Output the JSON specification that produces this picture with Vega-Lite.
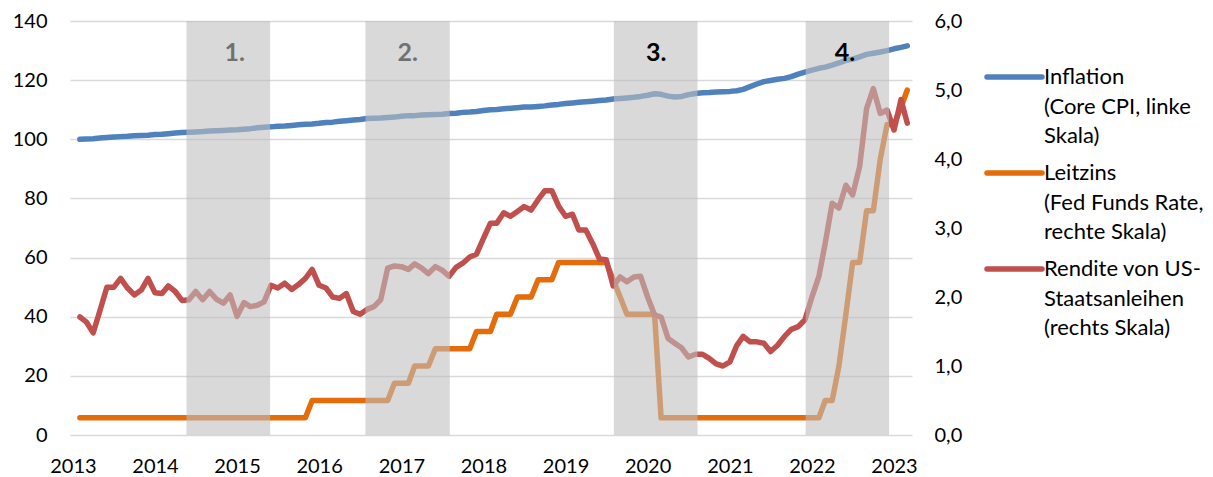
{
  "$schema": "https://vega.github.io/schema/vega-lite/v6.json",
  "width": 842,
  "height": 414,
  "autosize": "none",
  "padding": {"left": 70, "top": 21, "right": 301, "bottom": 42},
  "background": "white",
  "config": {"view": {"stroke": null}, "font": "Lato"},
  "datasets": {
    "series": [
      {"date":"2013-02-01","infl":100.0,"rate":0.25,"yld":1.71},
      {"date":"2013-03-01","infl":100.1,"rate":0.25,"yld":1.64},
      {"date":"2013-04-01","infl":100.2,"rate":0.25,"yld":1.48},
      {"date":"2013-05-01","infl":100.4,"rate":0.25,"yld":1.80},
      {"date":"2013-06-01","infl":100.6,"rate":0.25,"yld":2.14},
      {"date":"2013-07-01","infl":100.8,"rate":0.25,"yld":2.14},
      {"date":"2013-08-01","infl":100.9,"rate":0.25,"yld":2.27},
      {"date":"2013-09-01","infl":101.0,"rate":0.25,"yld":2.13},
      {"date":"2013-10-01","infl":101.2,"rate":0.25,"yld":2.03},
      {"date":"2013-11-01","infl":101.3,"rate":0.25,"yld":2.10},
      {"date":"2013-12-01","infl":101.4,"rate":0.25,"yld":2.27},
      {"date":"2014-01-01","infl":101.6,"rate":0.25,"yld":2.06},
      {"date":"2014-02-01","infl":101.7,"rate":0.25,"yld":2.05},
      {"date":"2014-03-01","infl":101.9,"rate":0.25,"yld":2.16},
      {"date":"2014-04-01","infl":102.1,"rate":0.25,"yld":2.08},
      {"date":"2014-05-01","infl":102.3,"rate":0.25,"yld":1.95},
      {"date":"2014-06-01","infl":102.4,"rate":0.25,"yld":1.96},
      {"date":"2014-07-01","infl":102.5,"rate":0.25,"yld":2.08},
      {"date":"2014-08-01","infl":102.6,"rate":0.25,"yld":1.96},
      {"date":"2014-09-01","infl":102.8,"rate":0.25,"yld":2.08},
      {"date":"2014-10-01","infl":102.9,"rate":0.25,"yld":1.97},
      {"date":"2014-11-01","infl":103.0,"rate":0.25,"yld":1.91},
      {"date":"2014-12-01","infl":103.1,"rate":0.25,"yld":2.03},
      {"date":"2015-01-01","infl":103.2,"rate":0.25,"yld":1.72},
      {"date":"2015-02-01","infl":103.4,"rate":0.25,"yld":1.92},
      {"date":"2015-03-01","infl":103.6,"rate":0.25,"yld":1.86},
      {"date":"2015-04-01","infl":103.9,"rate":0.25,"yld":1.88},
      {"date":"2015-05-01","infl":104.1,"rate":0.25,"yld":1.93},
      {"date":"2015-06-01","infl":104.2,"rate":0.25,"yld":2.17},
      {"date":"2015-07-01","infl":104.4,"rate":0.25,"yld":2.13},
      {"date":"2015-08-01","infl":104.5,"rate":0.25,"yld":2.20},
      {"date":"2015-09-01","infl":104.7,"rate":0.25,"yld":2.11},
      {"date":"2015-10-01","infl":104.9,"rate":0.25,"yld":2.18},
      {"date":"2015-11-01","infl":105.1,"rate":0.25,"yld":2.27},
      {"date":"2015-12-01","infl":105.2,"rate":0.5,"yld":2.40},
      {"date":"2016-01-01","infl":105.4,"rate":0.5,"yld":2.17},
      {"date":"2016-02-01","infl":105.7,"rate":0.5,"yld":2.13},
      {"date":"2016-03-01","infl":105.8,"rate":0.5,"yld":2.00},
      {"date":"2016-04-01","infl":106.1,"rate":0.5,"yld":1.98},
      {"date":"2016-05-01","infl":106.3,"rate":0.5,"yld":2.05},
      {"date":"2016-06-01","infl":106.5,"rate":0.5,"yld":1.79},
      {"date":"2016-07-01","infl":106.7,"rate":0.5,"yld":1.75},
      {"date":"2016-08-01","infl":107.0,"rate":0.5,"yld":1.82},
      {"date":"2016-09-01","infl":107.1,"rate":0.5,"yld":1.86},
      {"date":"2016-10-01","infl":107.2,"rate":0.5,"yld":1.96},
      {"date":"2016-11-01","infl":107.4,"rate":0.5,"yld":2.42},
      {"date":"2016-12-01","infl":107.5,"rate":0.75,"yld":2.45},
      {"date":"2017-01-01","infl":107.8,"rate":0.75,"yld":2.44},
      {"date":"2017-02-01","infl":108.0,"rate":0.75,"yld":2.40},
      {"date":"2017-03-01","infl":108.0,"rate":1.0,"yld":2.48},
      {"date":"2017-04-01","infl":108.2,"rate":1.0,"yld":2.42},
      {"date":"2017-05-01","infl":108.3,"rate":1.0,"yld":2.34},
      {"date":"2017-06-01","infl":108.4,"rate":1.25,"yld":2.44},
      {"date":"2017-07-01","infl":108.5,"rate":1.25,"yld":2.39},
      {"date":"2017-08-01","infl":108.7,"rate":1.25,"yld":2.30},
      {"date":"2017-09-01","infl":108.8,"rate":1.25,"yld":2.43},
      {"date":"2017-10-01","infl":109.1,"rate":1.25,"yld":2.49},
      {"date":"2017-11-01","infl":109.2,"rate":1.25,"yld":2.58},
      {"date":"2017-12-01","infl":109.4,"rate":1.5,"yld":2.62},
      {"date":"2018-01-01","infl":109.7,"rate":1.5,"yld":2.85},
      {"date":"2018-02-01","infl":110.0,"rate":1.5,"yld":3.07},
      {"date":"2018-03-01","infl":110.1,"rate":1.75,"yld":3.07},
      {"date":"2018-04-01","infl":110.3,"rate":1.75,"yld":3.22},
      {"date":"2018-05-01","infl":110.5,"rate":1.75,"yld":3.17},
      {"date":"2018-06-01","infl":110.7,"rate":2.0,"yld":3.24},
      {"date":"2018-07-01","infl":110.9,"rate":2.0,"yld":3.31},
      {"date":"2018-08-01","infl":110.9,"rate":2.0,"yld":3.26},
      {"date":"2018-09-01","infl":111.1,"rate":2.25,"yld":3.41},
      {"date":"2018-10-01","infl":111.3,"rate":2.25,"yld":3.54},
      {"date":"2018-11-01","infl":111.6,"rate":2.25,"yld":3.54},
      {"date":"2018-12-01","infl":111.8,"rate":2.5,"yld":3.32},
      {"date":"2019-01-01","infl":112.1,"rate":2.5,"yld":3.17},
      {"date":"2019-02-01","infl":112.3,"rate":2.5,"yld":3.20},
      {"date":"2019-03-01","infl":112.5,"rate":2.5,"yld":2.97},
      {"date":"2019-04-01","infl":112.7,"rate":2.5,"yld":2.97},
      {"date":"2019-05-01","infl":112.9,"rate":2.5,"yld":2.78},
      {"date":"2019-06-01","infl":113.1,"rate":2.5,"yld":2.55},
      {"date":"2019-07-01","infl":113.3,"rate":2.5,"yld":2.54},
      {"date":"2019-08-01","infl":113.6,"rate":2.25,"yld":2.16},
      {"date":"2019-09-01","infl":113.8,"rate":2.0,"yld":2.29},
      {"date":"2019-10-01","infl":114.0,"rate":1.75,"yld":2.22},
      {"date":"2019-11-01","infl":114.2,"rate":1.75,"yld":2.29},
      {"date":"2019-12-01","infl":114.5,"rate":1.75,"yld":2.30},
      {"date":"2020-01-01","infl":114.9,"rate":1.75,"yld":2.00},
      {"date":"2020-02-01","infl":115.4,"rate":1.75,"yld":1.74},
      {"date":"2020-03-01","infl":115.2,"rate":0.25,"yld":1.71},
      {"date":"2020-04-01","infl":114.6,"rate":0.25,"yld":1.40},
      {"date":"2020-05-01","infl":114.3,"rate":0.25,"yld":1.33},
      {"date":"2020-06-01","infl":114.5,"rate":0.25,"yld":1.26},
      {"date":"2020-07-01","infl":115.1,"rate":0.25,"yld":1.13},
      {"date":"2020-08-01","infl":115.5,"rate":0.25,"yld":1.17},
      {"date":"2020-09-01","infl":115.7,"rate":0.25,"yld":1.17},
      {"date":"2020-10-01","infl":115.8,"rate":0.25,"yld":1.11},
      {"date":"2020-11-01","infl":116.0,"rate":0.25,"yld":1.03},
      {"date":"2020-12-01","infl":116.1,"rate":0.25,"yld":1.00},
      {"date":"2021-01-01","infl":116.2,"rate":0.25,"yld":1.06},
      {"date":"2021-02-01","infl":116.4,"rate":0.25,"yld":1.30},
      {"date":"2021-03-01","infl":116.9,"rate":0.25,"yld":1.43},
      {"date":"2021-04-01","infl":117.8,"rate":0.25,"yld":1.35},
      {"date":"2021-05-01","infl":118.7,"rate":0.25,"yld":1.35},
      {"date":"2021-06-01","infl":119.5,"rate":0.25,"yld":1.33},
      {"date":"2021-07-01","infl":119.9,"rate":0.25,"yld":1.21},
      {"date":"2021-08-01","infl":120.3,"rate":0.25,"yld":1.30},
      {"date":"2021-09-01","infl":120.6,"rate":0.25,"yld":1.43},
      {"date":"2021-10-01","infl":121.2,"rate":0.25,"yld":1.53},
      {"date":"2021-11-01","infl":122.0,"rate":0.25,"yld":1.57},
      {"date":"2021-12-01","infl":122.7,"rate":0.25,"yld":1.67},
      {"date":"2022-01-01","infl":123.4,"rate":0.25,"yld":2.00},
      {"date":"2022-02-01","infl":124.0,"rate":0.25,"yld":2.30},
      {"date":"2022-03-01","infl":124.4,"rate":0.5,"yld":2.78},
      {"date":"2022-04-01","infl":125.1,"rate":0.5,"yld":3.36},
      {"date":"2022-05-01","infl":125.8,"rate":1.0,"yld":3.29},
      {"date":"2022-06-01","infl":126.7,"rate":1.75,"yld":3.62},
      {"date":"2022-07-01","infl":127.1,"rate":2.5,"yld":3.48},
      {"date":"2022-08-01","infl":127.9,"rate":2.5,"yld":3.89},
      {"date":"2022-09-01","infl":128.7,"rate":3.25,"yld":4.73},
      {"date":"2022-10-01","infl":129.1,"rate":3.25,"yld":5.02},
      {"date":"2022-11-01","infl":129.5,"rate":4.0,"yld":4.66},
      {"date":"2022-12-01","infl":130.0,"rate":4.5,"yld":4.71},
      {"date":"2023-01-01","infl":130.6,"rate":4.5,"yld":4.42},
      {"date":"2023-02-01","infl":131.1,"rate":4.75,"yld":4.86},
      {"date":"2023-03-01","infl":131.6,"rate":5.0,"yld":4.52}
    ],
    "shade": [
      {"start":"2014-05-21","end":"2015-05-28"},
      {"start":"2016-07-25","end":"2017-08-04"},
      {"start":"2019-08-04","end":"2020-08-10"},
      {"start":"2021-12-04","end":"2022-12-10"}
    ],
    "labUnder": [
      {"date":"2014-12-22","pos":129.2,"lab":"1."},
      {"date":"2017-01-29","pos":129.2,"lab":"2."}
    ],
    "labOver": [
      {"date":"2020-02-08","pos":129.2,"lab":"3."},
      {"date":"2022-05-28","pos":129.2,"lab":"4."}
    ]
  },
  "layer": [
    {
      "data": {"name": "series"},
      "mark": {"type": "line", "strokeWidth": 5.5, "strokeCap": "round", "strokeJoin": "round"},
      "encoding": {
        "x": {"field": "date", "type": "temporal", "title": null,
              "scale": {"domain": [{"year": 2012, "month": 12, "date": 19}, {"year": 2023, "month": 3, "date": 22}]},
              "axis": {"format": "%Y", "tickCount": {"interval": "year", "step": 1}, "grid": false, "domain": false, "ticks": false,
                       "labelPadding": 21, "labelFont": "Lato", "labelFontSize": 20, "labelColor": "#000000", "labelFlush": false, "labelOverlap": false}},
        "y": {"field": "infl", "type": "quantitative", "title": null,
              "scale": {"domain": [0, 140], "nice": false, "zero": true},
              "axis": {"orient": "left", "values": [0, 20, 40, 60, 80, 100, 120, 140], "grid": true, "gridColor": "#d9d9d9", "gridWidth": 1.5,
                       "domain": false, "ticks": false, "labelPadding": 23, "labelFont": "Lato", "labelFontSize": 20, "labelColor": "#000000"}},
        "color": {"datum": "Inflation",
                  "scale": {"domain": ["Inflation", "Leitzins", "Rendite"], "range": ["#4F81BD", "#E46C0A", "#C0504D"]},
                  "legend": {"title": null, "orient": "none", "legendX": 914, "legendY": 30,
                             "symbolType": "stroke", "symbolSize": 3025, "symbolStrokeWidth": 5.5,
                             "labelFont": "Lato", "labelFontSize": 22, "labelColor": "#000000", "labelOffset": -1, "labelLimit": 400,
                             "rowPadding": 0, "clipHeight": 52, "labelBaseline": "alphabetic",
                             "labelExpr": "datum.label == 'Inflation' ? ['Inflation', '(Core CPI, linke', 'Skala)'] : datum.label == 'Leitzins' ? ['Leitzins', '(Fed Funds Rate,', 'rechte Skala)'] : ['Rendite von US-', 'Staatsanleihen', '(rechts Skala)']",
                             "encode": {"labels": {"update": {"lineHeight": {"value": 29.5}, "dy": {"value": 7}}},
                                        "symbols": {"update": {"strokeCap": {"value": "round"}}}}}}
      }
    },
    {
      "data": {"name": "series"},
      "encoding": {
        "x": {"field": "date", "type": "temporal", "title": null,
              "scale": {"domain": [{"year": 2012, "month": 12, "date": 19}, {"year": 2023, "month": 3, "date": 22}]}}
      },
      "layer": [
        {
          "mark": {"type": "line", "strokeWidth": 5.5, "strokeCap": "round", "strokeJoin": "round"},
          "encoding": {
            "y": {"field": "rate", "type": "quantitative", "title": null,
                  "scale": {"domain": [0, 6], "nice": false},
                  "axis": {"orient": "right", "values": [0, 1, 2, 3, 4, 5, 6], "grid": false, "domain": false, "ticks": false,
                           "labelPadding": 22, "labelFont": "Lato", "labelFontSize": 20, "labelColor": "#000000",
                           "labelExpr": "replace(format(datum.value, '.1f'), '.', ',')"}},
            "color": {"datum": "Leitzins"}
          }
        },
        {
          "mark": {"type": "line", "strokeWidth": 5.5, "strokeCap": "round", "strokeJoin": "round"},
          "encoding": {
            "y": {"field": "yld", "type": "quantitative", "title": null},
            "color": {"datum": "Rendite"}
          }
        }
      ]
    },
    {
      "data": {"name": "labUnder"},
      "mark": {"type": "text", "font": "Lato", "fontWeight": "bold", "fontSize": 25, "align": "center", "baseline": "middle", "color": "#000000"},
      "encoding": {
        "x": {"field": "date", "type": "temporal", "title": null,
              "scale": {"domain": [{"year": 2012, "month": 12, "date": 19}, {"year": 2023, "month": 3, "date": 22}]}},
        "y": {"field": "pos", "type": "quantitative", "scale": {"domain": [0, 140], "nice": false}, "axis": null},
        "text": {"field": "lab"}
      }
    },
    {
      "data": {"name": "shade"},
      "mark": {"type": "rect", "color": "#bfbfbf", "opacity": 0.59},
      "encoding": {
        "x": {"field": "start", "type": "temporal", "title": null,
              "scale": {"domain": [{"year": 2012, "month": 12, "date": 19}, {"year": 2023, "month": 3, "date": 22}]}},
        "x2": {"field": "end"}
      }
    },
    {
      "data": {"name": "labOver"},
      "mark": {"type": "text", "font": "Lato", "fontWeight": "bold", "fontSize": 25, "align": "center", "baseline": "middle", "color": "#000000"},
      "encoding": {
        "x": {"field": "date", "type": "temporal", "title": null,
              "scale": {"domain": [{"year": 2012, "month": 12, "date": 19}, {"year": 2023, "month": 3, "date": 22}]}},
        "y": {"field": "pos", "type": "quantitative", "scale": {"domain": [0, 140], "nice": false}, "axis": null},
        "text": {"field": "lab"}
      }
    }
  ],
  "resolve": {"scale": {"y": "independent"}, "axis": {"y": "independent"}}
}
